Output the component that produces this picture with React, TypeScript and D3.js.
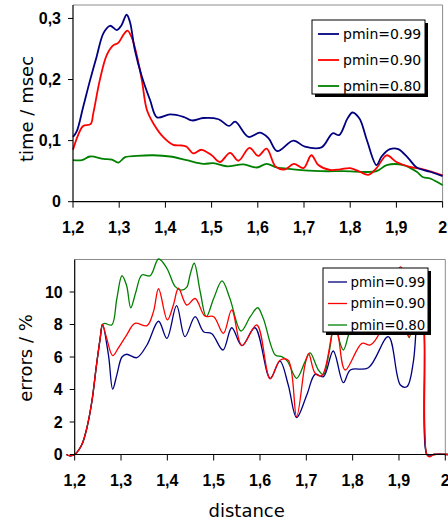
import React from "react";
import * as d3 from "d3";

// legend + colours
const legendLabels = ["pmin=0.99", "pmin=0.90", "pmin=0.80"];
const seriesColors = ["#000080", "#ff0000", "#008000"];

// ticks
const distTicks = [1.2, 1.3, 1.4, 1.5, 1.6, 1.7, 1.8, 1.9, 2.0];
const timeTicks = [0, 0.1, 0.2, 0.3];
const errorTicks = [0, 2, 4, 6, 8, 10];

// time / msec vs distance
const time99: [number, number][] = [
  [1.2, 0.106], [1.208, 0.115], [1.222, 0.155], [1.237, 0.199], [1.251, 0.237], [1.266, 0.276],
  [1.28, 0.288], [1.295, 0.281], [1.305, 0.289], [1.316, 0.306], [1.323, 0.295], [1.334, 0.248],
  [1.349, 0.205], [1.367, 0.166], [1.382, 0.138], [1.41, 0.143], [1.439, 0.139], [1.457, 0.133],
  [1.482, 0.137], [1.515, 0.135], [1.538, 0.124], [1.551, 0.131], [1.58, 0.106], [1.605, 0.113],
  [1.623, 0.104], [1.642, 0.083], [1.677, 0.1], [1.702, 0.09], [1.738, 0.089], [1.762, 0.112],
  [1.776, 0.109], [1.794, 0.136], [1.805, 0.146], [1.82, 0.136], [1.836, 0.101], [1.857, 0.06],
  [1.868, 0.074], [1.886, 0.086], [1.904, 0.086], [1.926, 0.071], [1.944, 0.056], [1.973, 0.049],
  [2.0, 0.042],
];
const time90: [number, number][] = [
  [1.2, 0.085], [1.211, 0.109], [1.222, 0.124], [1.238, 0.127], [1.244, 0.145], [1.258, 0.199],
  [1.273, 0.24], [1.287, 0.256], [1.298, 0.26], [1.309, 0.273], [1.318, 0.28], [1.327, 0.269],
  [1.338, 0.24], [1.349, 0.199], [1.36, 0.15], [1.374, 0.128], [1.395, 0.106], [1.417, 0.093],
  [1.435, 0.092], [1.446, 0.09], [1.46, 0.079], [1.478, 0.085], [1.5, 0.076], [1.518, 0.065],
  [1.54, 0.08], [1.558, 0.067], [1.582, 0.088], [1.601, 0.075], [1.619, 0.087], [1.639, 0.057],
  [1.659, 0.053], [1.678, 0.062], [1.699, 0.055], [1.716, 0.076], [1.731, 0.06], [1.756, 0.052],
  [1.778, 0.053], [1.8, 0.055], [1.821, 0.049], [1.839, 0.044], [1.857, 0.055], [1.879, 0.076],
  [1.9, 0.065], [1.929, 0.057], [1.958, 0.053], [2.0, 0.043],
];
const time80: [number, number][] = [
  [1.2, 0.068], [1.219, 0.068], [1.237, 0.074], [1.266, 0.07], [1.284, 0.069], [1.298, 0.064],
  [1.313, 0.073], [1.338, 0.075], [1.374, 0.076], [1.41, 0.074], [1.446, 0.068], [1.482, 0.062],
  [1.504, 0.063], [1.533, 0.058], [1.569, 0.061], [1.598, 0.056], [1.619, 0.062], [1.641, 0.056],
  [1.677, 0.053], [1.735, 0.05], [1.785, 0.05], [1.857, 0.05], [1.879, 0.06], [1.915, 0.06],
  [1.944, 0.049], [1.958, 0.04], [1.973, 0.038], [2.0, 0.027],
];

// errors / % vs distance
const err99: [number, number][] = [
  [1.182, 0], [1.19, -0.08], [1.2, 0], [1.215, 0.58], [1.226, 1.6], [1.237, 3.25], [1.247, 5.5],
  [1.255, 7.15], [1.26, 8.0], [1.273, 6.1], [1.282, 4.03], [1.291, 4.9], [1.302, 6.0], [1.312, 6.17],
  [1.334, 5.96], [1.356, 6.74], [1.381, 8.2], [1.399, 7.15], [1.42, 9.16], [1.438, 7.25], [1.46, 8.48],
  [1.478, 7.56], [1.496, 7.43], [1.52, 6.43], [1.539, 7.8], [1.561, 6.7], [1.589, 7.8], [1.622, 4.69],
  [1.643, 5.75], [1.661, 4.28], [1.679, 2.27], [1.701, 3.66], [1.719, 4.93], [1.737, 4.79],
  [1.758, 6.37], [1.78, 4.42], [1.795, 5.2], [1.834, 5.34], [1.877, 7.25], [1.903, 4.28],
  [1.917, 4.17], [1.931, 5.7], [1.945, 11.2], [1.954, 8], [1.96, 0], [1.966, -0.1], [1.975, 0],
  [2.006, 0],
];
const err90: [number, number][] = [
  [1.182, 0], [1.19, -0.08], [1.2, 0], [1.215, 0.58], [1.226, 1.6], [1.237, 3.25], [1.247, 5.5],
  [1.255, 7.15], [1.26, 8.0], [1.269, 7.15], [1.282, 6.08], [1.294, 6.54], [1.312, 7.35], [1.33, 8.07],
  [1.356, 7.93], [1.37, 8.79], [1.381, 10.2], [1.4, 8.28], [1.413, 9.2], [1.424, 10.23], [1.442, 9.2],
  [1.46, 9.6], [1.481, 8.52], [1.5, 8.48], [1.521, 7.46], [1.539, 8.9], [1.561, 6.7], [1.593, 7.97],
  [1.622, 4.65], [1.643, 5.8], [1.661, 5.8], [1.679, 2.33], [1.697, 5.5], [1.705, 6.2], [1.719, 5.0],
  [1.733, 4.85], [1.755, 7.4], [1.762, 8.6], [1.77, 7.15], [1.784, 5.2], [1.82, 6.84], [1.838, 6.74],
  [1.86, 7.6], [1.885, 10.5], [1.904, 11.55], [1.922, 7.2], [1.94, 11.3], [1.954, 8], [1.96, 0],
  [1.966, -0.15], [1.975, 0], [2.006, 0],
];
const err80: [number, number][] = [
  [1.182, 0], [1.19, -0.08], [1.2, 0], [1.215, 0.58], [1.226, 1.6], [1.237, 3.25], [1.247, 5.5],
  [1.255, 7.15], [1.26, 8.0], [1.265, 8.07], [1.28, 7.97], [1.291, 9.6], [1.302, 11.0], [1.312, 10.4],
  [1.321, 9.03], [1.332, 10.0], [1.345, 11.05], [1.363, 11.0], [1.381, 12.03], [1.399, 11.46],
  [1.417, 10.33], [1.431, 10.12], [1.442, 10.3], [1.449, 11.05], [1.458, 11.77], [1.471, 10.0],
  [1.484, 8.48], [1.5, 9.6], [1.518, 10.68], [1.535, 9.6], [1.559, 7.6], [1.579, 8.48], [1.595, 9.03],
  [1.607, 8.38], [1.633, 6.12], [1.647, 6.02], [1.659, 5.75], [1.679, 4.69], [1.697, 5.7], [1.708, 6.25],
  [1.726, 5.2], [1.737, 4.9], [1.748, 6.1], [1.755, 7.35], [1.762, 8.5], [1.769, 7.25], [1.78, 6.43],
  [1.791, 7.35], [1.81, 9], [1.84, 9.5], [1.87, 8], [1.882, 7.46], [1.9, 9], [1.922, 7.2], [1.94, 11],
  [1.954, 8], [1.96, 0], [1.966, -0.1], [1.975, 0], [2.006, 0],
];

const locale = d3.formatLocale({ decimal: ",", thousands: ".", grouping: [3], currency: ["", ""] });
const fmt = locale.format(".1~f");

type Series = { data: [number, number][]; color: string };
type LegendBox = { x: number; y: number; w: number; h: number; row0: number; rowH: number; line: [number, number]; textX: number; fontSize: number };

function Panel(props: {
  left: number; right: number; top: number; bottom: number;
  yMax: number; yTicks: number[]; series: Series[]; strokeWidth: number;
  yLabel: string; yLabelX: number; yLabelY: number; legend: LegendBox;
}) {
  const { left, right, top, bottom, yMax, yTicks, series, strokeWidth, legend } = props;
  const x = d3.scaleLinear().domain([1.2, 2.0]).range([left, right]);
  const y = d3.scaleLinear().domain([0, yMax]).range([bottom, top]);
  const line = d3.line<[number, number]>()
    .x(d => x(d[0]))
    .y(d => y(d[1]))
    .curve(d3.curveCatmullRom.alpha(0.5));
  const bold = { fontFamily: "'Liberation Sans', Arial, sans-serif", fontWeight: 700, fontSize: 16 };
  return (
    <g>
      {/* frame */}
      <path d={`M${left},${top}H${right}V${bottom}`} fill="none" stroke="#8c8c8c" strokeWidth={1} />
      {series.map((s, i) => (
        <path key={i} d={line(s.data) || ""} fill="none" stroke={s.color} strokeWidth={strokeWidth} strokeLinejoin="round" />
      ))}
      <line x1={left} x2={left} y1={top} y2={bottom} stroke="#000" strokeWidth={1.2} />
      <line x1={left} x2={right} y1={bottom} y2={bottom} stroke="#000" strokeWidth={1.2} />
      {distTicks.map(t => (
        <g key={t}>
          <line x1={x(t)} x2={x(t)} y1={bottom} y2={bottom + 6} stroke="#000" />
          <text x={x(t)} y={bottom + 31} textAnchor="middle" {...bold}>{fmt(t)}</text>
        </g>
      ))}
      {yTicks.map(t => (
        <g key={t}>
          <line x1={left - 5} x2={left} y1={y(t)} y2={y(t)} stroke="#000" />
          <text x={left - 12} y={y(t) + 5.7} textAnchor="end" {...bold}>{fmt(t)}</text>
        </g>
      ))}
      <text transform={`translate(${props.yLabelX},${props.yLabelY}) rotate(-90)`} textAnchor="middle"
        fontFamily="'DejaVu Sans', Verdana, sans-serif" fontSize={18}>{props.yLabel}</text>
      {/* legend */}
      <rect x={legend.x + 3} y={legend.y + 3} width={legend.w} height={legend.h} fill="#000" />
      <rect x={legend.x} y={legend.y} width={legend.w} height={legend.h} fill="#fff" stroke="#000" strokeWidth={1} />
      {legendLabels.map((lab, i) => {
        const cy = legend.y + legend.row0 + i * legend.rowH;
        return (
          <g key={lab}>
            <line x1={legend.x + legend.line[0]} x2={legend.x + legend.line[1]} y1={cy} y2={cy} stroke={seriesColors[i]} strokeWidth={strokeWidth} />
            <text x={legend.x + legend.textX} y={cy} dy="0.36em" fontFamily="'DejaVu Sans', Verdana, sans-serif" fontSize={legend.fontSize}>{lab}</text>
          </g>
        );
      })}
    </g>
  );
}

export default function App() {
  return (
    <svg width={448} height={521} style={{ position: "absolute", left: 0, top: 0, display: "block", background: "#fff" }}>
      <Panel left={73} right={442.6} top={5} bottom={201.7} yMax={0.322} yTicks={timeTicks}
        series={[
          { data: time80, color: seriesColors[2] },
          { data: time90, color: seriesColors[1] },
          { data: time99, color: seriesColors[0] },
        ]}
        strokeWidth={1.8} yLabel="time / msec" yLabelX={33} yLabelY={109}
        legend={{ x: 312, y: 20, w: 113, h: 74, row0: 14, rowH: 26, line: [6, 27], textX: 31, fontSize: 14 }} />
      <Panel left={74.7} right={445.3} top={259.5} bottom={454.5} yMax={12} yTicks={errorTicks}
        series={[
          { data: err80, color: seriesColors[2] },
          { data: err99, color: seriesColors[0] },
          { data: err90, color: seriesColors[1] },
        ]}
        strokeWidth={1.3} yLabel="errors / %" yLabelX={31.7} yLabelY={358}
        legend={{ x: 323, y: 268, w: 105, h: 64, row0: 14, rowH: 21.5, line: [5, 24], textX: 27.5, fontSize: 13.4 }} />
      <text x={246.7} y={517} textAnchor="middle" fontFamily="'DejaVu Sans', Verdana, sans-serif" fontSize={18}>distance</text>
    </svg>
  );
}
